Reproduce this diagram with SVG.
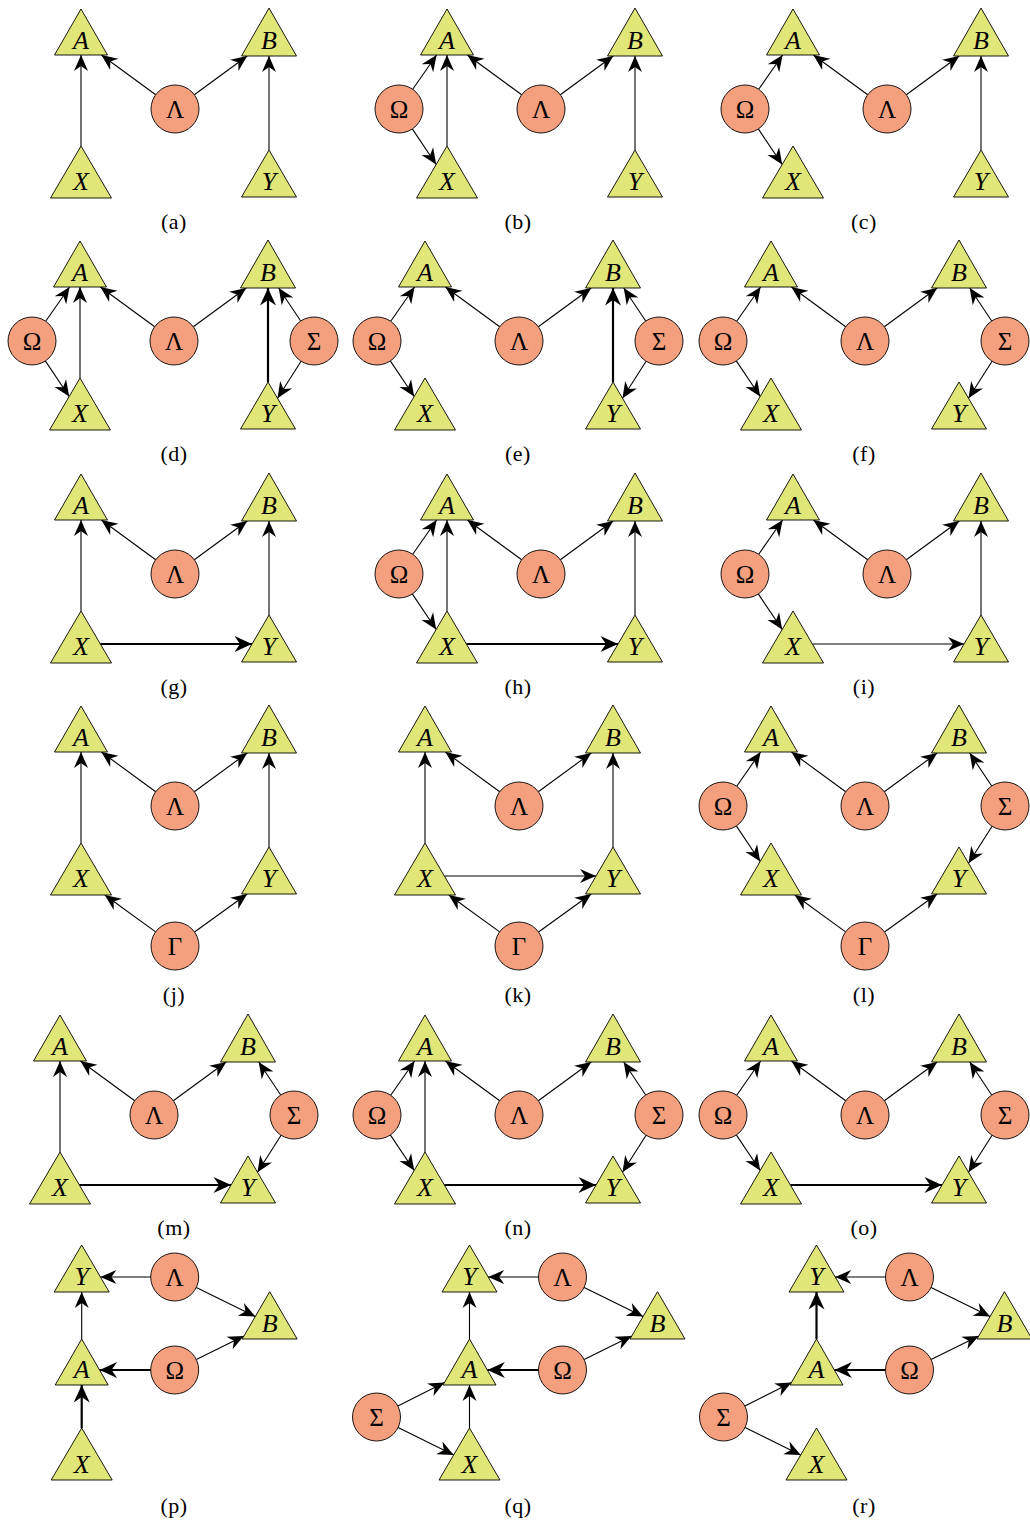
<svg xmlns="http://www.w3.org/2000/svg" width="1030" height="1524" viewBox="0 0 1030 1524">
<style>
.tri{fill:#E1E678;stroke:#000;stroke-width:0.9}
.c{fill:#F4A07F;stroke:#000;stroke-width:0.9}
text{font-family:'Liberation Serif','Times New Roman','DejaVu Serif',serif;text-anchor:middle;fill:#000}
.v{font-style:italic;font-size:26px}
.g{font-size:25px}
.lbl{font-size:22px;letter-spacing:0.5px}
.e{fill:none;stroke:#000;stroke-width:1.1;marker-end:url(#ah)}
.t{fill:none;stroke:#000;stroke-width:2.2;marker-end:url(#ahT)}
</style>
<defs>
<marker id="ah" markerUnits="userSpaceOnUse" markerWidth="20" markerHeight="18" viewBox="-18 -9 20 18" refX="0" refY="0" orient="auto"><path d="M0,0 L-16,-7 L-11,0 L-16,7 z" fill="#000"/></marker>
<marker id="ahT" markerUnits="userSpaceOnUse" markerWidth="22" markerHeight="20" viewBox="-20 -10 22 20" refX="0" refY="0" orient="auto"><path d="M0,0 L-17.5,-8 L-12,0 L-17.5,8 z" fill="#000"/></marker>
</defs>
<rect width="1030" height="1524" fill="#fff"/>

<!-- (a) -->
<g id="panel-a" transform="translate(81,109)">
<g id="a-edges"><path class="e" d="M0,37 L0,-54"/><path class="e" d="M74.7,-14.2 L20.4,-54"/><path class="e" d="M113.3,-14.2 L166.2,-53"/><path class="e" d="M188,41 L188,-53"/></g>
<g id="a-A"><polygon class="tri" points="0,-100 26.5,-54 -26.5,-54"/><text class="v" x="0" y="-60">A</text></g>
<g id="a-B"><polygon class="tri" points="188,-101 215.5,-53 160.5,-53"/><text class="v" x="188" y="-60">B</text></g>
<g id="a-X"><polygon class="tri" points="0,37 30.5,89 -30.5,89"/><text class="v" x="0" y="81">X</text></g>
<g id="a-Y"><polygon class="tri" points="188,41 215.5,88 160.5,88"/><text class="v" x="188" y="80.5">Y</text></g>
<g id="a-L"><circle class="c" cx="94" cy="0" r="24"/><text class="g" x="94" y="9">Λ</text></g>
</g>
<text class="lbl" x="174" y="229">(a)</text>

<!-- (b) -->
<g id="panel-b" transform="translate(447,109)">
<g id="b-edges"><path class="e" d="M-34.3,-19.7 L-10.4,-54"/><path class="e" d="M-34.7,19.9 L-10.8,55.5"/><path class="e" d="M0,37 L0,-54"/><path class="e" d="M74.7,-14.2 L20.4,-54"/><path class="e" d="M113.3,-14.2 L166.2,-53"/><path class="e" d="M188,41 L188,-53"/></g>
<g id="b-A"><polygon class="tri" points="0,-100 26.5,-54 -26.5,-54"/><text class="v" x="0" y="-60">A</text></g>
<g id="b-B"><polygon class="tri" points="188,-101 215.5,-53 160.5,-53"/><text class="v" x="188" y="-60">B</text></g>
<g id="b-X"><polygon class="tri" points="0,37 30.5,89 -30.5,89"/><text class="v" x="0" y="81">X</text></g>
<g id="b-Y"><polygon class="tri" points="188,41 215.5,88 160.5,88"/><text class="v" x="188" y="80.5">Y</text></g>
<g id="b-L"><circle class="c" cx="94" cy="0" r="24"/><text class="g" x="94" y="9">Λ</text></g>
<g id="b-O"><circle class="c" cx="-48" cy="0" r="24"/><text class="g" x="-48" y="9">Ω</text></g>
</g>
<text class="lbl" x="518" y="229">(b)</text>

<!-- (c) -->
<g id="panel-c" transform="translate(793,109)">
<g id="c-edges"><path class="e" d="M-34.3,-19.7 L-10.4,-54"/><path class="e" d="M-34.7,19.9 L-10.8,55.5"/><path class="e" d="M74.7,-14.2 L20.4,-54"/><path class="e" d="M113.3,-14.2 L166.2,-53"/><path class="e" d="M188,41 L188,-53"/></g>
<g id="c-A"><polygon class="tri" points="0,-100 26.5,-54 -26.5,-54"/><text class="v" x="0" y="-60">A</text></g>
<g id="c-B"><polygon class="tri" points="188,-101 215.5,-53 160.5,-53"/><text class="v" x="188" y="-60">B</text></g>
<g id="c-X"><polygon class="tri" points="0,37 30.5,89 -30.5,89"/><text class="v" x="0" y="81">X</text></g>
<g id="c-Y"><polygon class="tri" points="188,41 215.5,88 160.5,88"/><text class="v" x="188" y="80.5">Y</text></g>
<g id="c-L"><circle class="c" cx="94" cy="0" r="24"/><text class="g" x="94" y="9">Λ</text></g>
<g id="c-O"><circle class="c" cx="-48" cy="0" r="24"/><text class="g" x="-48" y="9">Ω</text></g>
</g>
<text class="lbl" x="864" y="229">(c)</text>

<!-- (d) -->
<g id="panel-d" transform="translate(80,341)">
<g id="d-edges"><path class="e" d="M-34.3,-19.7 L-10.4,-54"/><path class="e" d="M-34.7,19.9 L-10.8,55.5"/><path class="e" d="M0,37 L0,-54"/><path class="e" d="M74.7,-14.2 L20.4,-54"/><path class="e" d="M113.3,-14.2 L166.2,-53"/><path class="t" d="M188,41 L188,-53"/><path class="e" d="M220.7,-20 L198.7,-53"/><path class="e" d="M221.1,20.2 L197.5,57.3"/></g>
<g id="d-A"><polygon class="tri" points="0,-100 26.5,-54 -26.5,-54"/><text class="v" x="0" y="-60">A</text></g>
<g id="d-B"><polygon class="tri" points="188,-101 215.5,-53 160.5,-53"/><text class="v" x="188" y="-60">B</text></g>
<g id="d-X"><polygon class="tri" points="0,37 30.5,89 -30.5,89"/><text class="v" x="0" y="81">X</text></g>
<g id="d-Y"><polygon class="tri" points="188,41 215.5,88 160.5,88"/><text class="v" x="188" y="80.5">Y</text></g>
<g id="d-L"><circle class="c" cx="94" cy="0" r="24"/><text class="g" x="94" y="9">Λ</text></g>
<g id="d-O"><circle class="c" cx="-48" cy="0" r="24"/><text class="g" x="-48" y="9">Ω</text></g>
<g id="d-S"><circle class="c" cx="234" cy="0" r="24"/><text class="g" x="234" y="9">Σ</text></g>
</g>
<text class="lbl" x="174" y="461">(d)</text>

<!-- (e) -->
<g id="panel-e" transform="translate(425,341)">
<g id="e-edges"><path class="e" d="M-34.3,-19.7 L-10.4,-54"/><path class="e" d="M-34.7,19.9 L-10.8,55.5"/><path class="e" d="M74.7,-14.2 L20.4,-54"/><path class="e" d="M113.3,-14.2 L166.2,-53"/><path class="t" d="M188,41 L188,-53"/><path class="e" d="M220.7,-20 L198.7,-53"/><path class="e" d="M221.1,20.2 L197.5,57.3"/></g>
<g id="e-A"><polygon class="tri" points="0,-100 26.5,-54 -26.5,-54"/><text class="v" x="0" y="-60">A</text></g>
<g id="e-B"><polygon class="tri" points="188,-101 215.5,-53 160.5,-53"/><text class="v" x="188" y="-60">B</text></g>
<g id="e-X"><polygon class="tri" points="0,37 30.5,89 -30.5,89"/><text class="v" x="0" y="81">X</text></g>
<g id="e-Y"><polygon class="tri" points="188,41 215.5,88 160.5,88"/><text class="v" x="188" y="80.5">Y</text></g>
<g id="e-L"><circle class="c" cx="94" cy="0" r="24"/><text class="g" x="94" y="9">Λ</text></g>
<g id="e-O"><circle class="c" cx="-48" cy="0" r="24"/><text class="g" x="-48" y="9">Ω</text></g>
<g id="e-S"><circle class="c" cx="234" cy="0" r="24"/><text class="g" x="234" y="9">Σ</text></g>
</g>
<text class="lbl" x="518" y="461">(e)</text>

<!-- (f) -->
<g id="panel-f" transform="translate(771,341)">
<g id="f-edges"><path class="e" d="M-34.3,-19.7 L-10.4,-54"/><path class="e" d="M-34.7,19.9 L-10.8,55.5"/><path class="e" d="M74.7,-14.2 L20.4,-54"/><path class="e" d="M113.3,-14.2 L166.2,-53"/><path class="e" d="M220.7,-20 L198.7,-53"/><path class="e" d="M221.1,20.2 L197.5,57.3"/></g>
<g id="f-A"><polygon class="tri" points="0,-100 26.5,-54 -26.5,-54"/><text class="v" x="0" y="-60">A</text></g>
<g id="f-B"><polygon class="tri" points="188,-101 215.5,-53 160.5,-53"/><text class="v" x="188" y="-60">B</text></g>
<g id="f-X"><polygon class="tri" points="0,37 30.5,89 -30.5,89"/><text class="v" x="0" y="81">X</text></g>
<g id="f-Y"><polygon class="tri" points="188,41 215.5,88 160.5,88"/><text class="v" x="188" y="80.5">Y</text></g>
<g id="f-L"><circle class="c" cx="94" cy="0" r="24"/><text class="g" x="94" y="9">Λ</text></g>
<g id="f-O"><circle class="c" cx="-48" cy="0" r="24"/><text class="g" x="-48" y="9">Ω</text></g>
<g id="f-S"><circle class="c" cx="234" cy="0" r="24"/><text class="g" x="234" y="9">Σ</text></g>
</g>
<text class="lbl" x="864" y="461">(f)</text>

<!-- (g) -->
<g id="panel-g" transform="translate(81,574)">
<g id="g-edges"><path class="e" d="M0,37 L0,-54"/><path class="e" d="M74.7,-14.2 L20.4,-54"/><path class="e" d="M113.3,-14.2 L166.2,-53"/><path class="e" d="M188,41 L188,-53"/><path class="t" d="M19.4,70 L171,70"/></g>
<g id="g-A"><polygon class="tri" points="0,-100 26.5,-54 -26.5,-54"/><text class="v" x="0" y="-60">A</text></g>
<g id="g-B"><polygon class="tri" points="188,-101 215.5,-53 160.5,-53"/><text class="v" x="188" y="-60">B</text></g>
<g id="g-X"><polygon class="tri" points="0,37 30.5,89 -30.5,89"/><text class="v" x="0" y="81">X</text></g>
<g id="g-Y"><polygon class="tri" points="188,41 215.5,88 160.5,88"/><text class="v" x="188" y="80.5">Y</text></g>
<g id="g-L"><circle class="c" cx="94" cy="0" r="24"/><text class="g" x="94" y="9">Λ</text></g>
</g>
<text class="lbl" x="174" y="694">(g)</text>

<!-- (h) -->
<g id="panel-h" transform="translate(447,574)">
<g id="h-edges"><path class="e" d="M-34.3,-19.7 L-10.4,-54"/><path class="e" d="M-34.7,19.9 L-10.8,55.5"/><path class="e" d="M0,37 L0,-54"/><path class="e" d="M74.7,-14.2 L20.4,-54"/><path class="e" d="M113.3,-14.2 L166.2,-53"/><path class="e" d="M188,41 L188,-53"/><path class="t" d="M19.4,70 L171,70"/></g>
<g id="h-A"><polygon class="tri" points="0,-100 26.5,-54 -26.5,-54"/><text class="v" x="0" y="-60">A</text></g>
<g id="h-B"><polygon class="tri" points="188,-101 215.5,-53 160.5,-53"/><text class="v" x="188" y="-60">B</text></g>
<g id="h-X"><polygon class="tri" points="0,37 30.5,89 -30.5,89"/><text class="v" x="0" y="81">X</text></g>
<g id="h-Y"><polygon class="tri" points="188,41 215.5,88 160.5,88"/><text class="v" x="188" y="80.5">Y</text></g>
<g id="h-L"><circle class="c" cx="94" cy="0" r="24"/><text class="g" x="94" y="9">Λ</text></g>
<g id="h-O"><circle class="c" cx="-48" cy="0" r="24"/><text class="g" x="-48" y="9">Ω</text></g>
</g>
<text class="lbl" x="518" y="694">(h)</text>

<!-- (i) -->
<g id="panel-i" transform="translate(793,574)">
<g id="i-edges"><path class="e" d="M-34.3,-19.7 L-10.4,-54"/><path class="e" d="M-34.7,19.9 L-10.8,55.5"/><path class="e" d="M74.7,-14.2 L20.4,-54"/><path class="e" d="M113.3,-14.2 L166.2,-53"/><path class="e" d="M188,41 L188,-53"/><path class="e" d="M19.4,70 L171,70"/></g>
<g id="i-A"><polygon class="tri" points="0,-100 26.5,-54 -26.5,-54"/><text class="v" x="0" y="-60">A</text></g>
<g id="i-B"><polygon class="tri" points="188,-101 215.5,-53 160.5,-53"/><text class="v" x="188" y="-60">B</text></g>
<g id="i-X"><polygon class="tri" points="0,37 30.5,89 -30.5,89"/><text class="v" x="0" y="81">X</text></g>
<g id="i-Y"><polygon class="tri" points="188,41 215.5,88 160.5,88"/><text class="v" x="188" y="80.5">Y</text></g>
<g id="i-L"><circle class="c" cx="94" cy="0" r="24"/><text class="g" x="94" y="9">Λ</text></g>
<g id="i-O"><circle class="c" cx="-48" cy="0" r="24"/><text class="g" x="-48" y="9">Ω</text></g>
</g>
<text class="lbl" x="864" y="694">(i)</text>

<!-- (j) -->
<g id="panel-j" transform="translate(81,806)">
<g id="j-edges"><path class="e" d="M0,37 L0,-54"/><path class="e" d="M74.7,-14.2 L20.4,-54"/><path class="e" d="M113.3,-14.2 L166.2,-53"/><path class="e" d="M188,41 L188,-53"/><path class="e" d="M74.6,125.9 L23.8,89"/><path class="e" d="M113.5,126 L166.2,88"/></g>
<g id="j-A"><polygon class="tri" points="0,-100 26.5,-54 -26.5,-54"/><text class="v" x="0" y="-60">A</text></g>
<g id="j-B"><polygon class="tri" points="188,-101 215.5,-53 160.5,-53"/><text class="v" x="188" y="-60">B</text></g>
<g id="j-X"><polygon class="tri" points="0,37 30.5,89 -30.5,89"/><text class="v" x="0" y="81">X</text></g>
<g id="j-Y"><polygon class="tri" points="188,41 215.5,88 160.5,88"/><text class="v" x="188" y="80.5">Y</text></g>
<g id="j-L"><circle class="c" cx="94" cy="0" r="24"/><text class="g" x="94" y="9">Λ</text></g>
<g id="j-G"><circle class="c" cx="94" cy="140" r="24"/><text class="g" x="94" y="149">Γ</text></g>
</g>
<text class="lbl" x="174" y="1002">(j)</text>

<!-- (k) -->
<g id="panel-k" transform="translate(425,806)">
<g id="k-edges"><path class="e" d="M0,37 L0,-54"/><path class="e" d="M74.7,-14.2 L20.4,-54"/><path class="e" d="M113.3,-14.2 L166.2,-53"/><path class="e" d="M188,41 L188,-53"/><path class="e" d="M19.4,70 L171,70"/><path class="e" d="M74.6,125.9 L23.8,89"/><path class="e" d="M113.5,126 L166.2,88"/></g>
<g id="k-A"><polygon class="tri" points="0,-100 26.5,-54 -26.5,-54"/><text class="v" x="0" y="-60">A</text></g>
<g id="k-B"><polygon class="tri" points="188,-101 215.5,-53 160.5,-53"/><text class="v" x="188" y="-60">B</text></g>
<g id="k-X"><polygon class="tri" points="0,37 30.5,89 -30.5,89"/><text class="v" x="0" y="81">X</text></g>
<g id="k-Y"><polygon class="tri" points="188,41 215.5,88 160.5,88"/><text class="v" x="188" y="80.5">Y</text></g>
<g id="k-L"><circle class="c" cx="94" cy="0" r="24"/><text class="g" x="94" y="9">Λ</text></g>
<g id="k-G"><circle class="c" cx="94" cy="140" r="24"/><text class="g" x="94" y="149">Γ</text></g>
</g>
<text class="lbl" x="518" y="1002">(k)</text>

<!-- (l) -->
<g id="panel-l" transform="translate(771,806)">
<g id="l-edges"><path class="e" d="M-34.3,-19.7 L-10.4,-54"/><path class="e" d="M-34.7,19.9 L-10.8,55.5"/><path class="e" d="M74.7,-14.2 L20.4,-54"/><path class="e" d="M113.3,-14.2 L166.2,-53"/><path class="e" d="M220.7,-20 L198.7,-53"/><path class="e" d="M221.1,20.2 L197.5,57.3"/><path class="e" d="M74.6,125.9 L23.8,89"/><path class="e" d="M113.5,126 L166.2,88"/></g>
<g id="l-A"><polygon class="tri" points="0,-100 26.5,-54 -26.5,-54"/><text class="v" x="0" y="-60">A</text></g>
<g id="l-B"><polygon class="tri" points="188,-101 215.5,-53 160.5,-53"/><text class="v" x="188" y="-60">B</text></g>
<g id="l-X"><polygon class="tri" points="0,37 30.5,89 -30.5,89"/><text class="v" x="0" y="81">X</text></g>
<g id="l-Y"><polygon class="tri" points="188,41 215.5,88 160.5,88"/><text class="v" x="188" y="80.5">Y</text></g>
<g id="l-L"><circle class="c" cx="94" cy="0" r="24"/><text class="g" x="94" y="9">Λ</text></g>
<g id="l-O"><circle class="c" cx="-48" cy="0" r="24"/><text class="g" x="-48" y="9">Ω</text></g>
<g id="l-S"><circle class="c" cx="234" cy="0" r="24"/><text class="g" x="234" y="9">Σ</text></g>
<g id="l-G"><circle class="c" cx="94" cy="140" r="24"/><text class="g" x="94" y="149">Γ</text></g>
</g>
<text class="lbl" x="864" y="1002">(l)</text>

<!-- (m) -->
<g id="panel-m" transform="translate(60,1115)">
<g id="m-edges"><path class="e" d="M0,37 L0,-54"/><path class="e" d="M74.7,-14.2 L20.4,-54"/><path class="e" d="M113.3,-14.2 L166.2,-53"/><path class="e" d="M220.7,-20 L198.7,-53"/><path class="e" d="M221.1,20.2 L197.5,57.3"/><path class="t" d="M19.4,70 L171,70"/></g>
<g id="m-A"><polygon class="tri" points="0,-100 26.5,-54 -26.5,-54"/><text class="v" x="0" y="-60">A</text></g>
<g id="m-B"><polygon class="tri" points="188,-101 215.5,-53 160.5,-53"/><text class="v" x="188" y="-60">B</text></g>
<g id="m-X"><polygon class="tri" points="0,37 30.5,89 -30.5,89"/><text class="v" x="0" y="81">X</text></g>
<g id="m-Y"><polygon class="tri" points="188,41 215.5,88 160.5,88"/><text class="v" x="188" y="80.5">Y</text></g>
<g id="m-L"><circle class="c" cx="94" cy="0" r="24"/><text class="g" x="94" y="9">Λ</text></g>
<g id="m-S"><circle class="c" cx="234" cy="0" r="24"/><text class="g" x="234" y="9">Σ</text></g>
</g>
<text class="lbl" x="174" y="1235">(m)</text>

<!-- (n) -->
<g id="panel-n" transform="translate(425,1115)">
<g id="n-edges"><path class="e" d="M-34.3,-19.7 L-10.4,-54"/><path class="e" d="M-34.7,19.9 L-10.8,55.5"/><path class="e" d="M0,37 L0,-54"/><path class="e" d="M74.7,-14.2 L20.4,-54"/><path class="e" d="M113.3,-14.2 L166.2,-53"/><path class="e" d="M220.7,-20 L198.7,-53"/><path class="e" d="M221.1,20.2 L197.5,57.3"/><path class="t" d="M19.4,70 L171,70"/></g>
<g id="n-A"><polygon class="tri" points="0,-100 26.5,-54 -26.5,-54"/><text class="v" x="0" y="-60">A</text></g>
<g id="n-B"><polygon class="tri" points="188,-101 215.5,-53 160.5,-53"/><text class="v" x="188" y="-60">B</text></g>
<g id="n-X"><polygon class="tri" points="0,37 30.5,89 -30.5,89"/><text class="v" x="0" y="81">X</text></g>
<g id="n-Y"><polygon class="tri" points="188,41 215.5,88 160.5,88"/><text class="v" x="188" y="80.5">Y</text></g>
<g id="n-L"><circle class="c" cx="94" cy="0" r="24"/><text class="g" x="94" y="9">Λ</text></g>
<g id="n-O"><circle class="c" cx="-48" cy="0" r="24"/><text class="g" x="-48" y="9">Ω</text></g>
<g id="n-S"><circle class="c" cx="234" cy="0" r="24"/><text class="g" x="234" y="9">Σ</text></g>
</g>
<text class="lbl" x="518" y="1235">(n)</text>

<!-- (o) -->
<g id="panel-o" transform="translate(771,1115)">
<g id="o-edges"><path class="e" d="M-34.3,-19.7 L-10.4,-54"/><path class="e" d="M-34.7,19.9 L-10.8,55.5"/><path class="e" d="M74.7,-14.2 L20.4,-54"/><path class="e" d="M113.3,-14.2 L166.2,-53"/><path class="e" d="M220.7,-20 L198.7,-53"/><path class="e" d="M221.1,20.2 L197.5,57.3"/><path class="t" d="M19.4,70 L171,70"/></g>
<g id="o-A"><polygon class="tri" points="0,-100 26.5,-54 -26.5,-54"/><text class="v" x="0" y="-60">A</text></g>
<g id="o-B"><polygon class="tri" points="188,-101 215.5,-53 160.5,-53"/><text class="v" x="188" y="-60">B</text></g>
<g id="o-X"><polygon class="tri" points="0,37 30.5,89 -30.5,89"/><text class="v" x="0" y="81">X</text></g>
<g id="o-Y"><polygon class="tri" points="188,41 215.5,88 160.5,88"/><text class="v" x="188" y="80.5">Y</text></g>
<g id="o-L"><circle class="c" cx="94" cy="0" r="24"/><text class="g" x="94" y="9">Λ</text></g>
<g id="o-O"><circle class="c" cx="-48" cy="0" r="24"/><text class="g" x="-48" y="9">Ω</text></g>
<g id="o-S"><circle class="c" cx="234" cy="0" r="24"/><text class="g" x="234" y="9">Σ</text></g>
</g>
<text class="lbl" x="864" y="1235">(o)</text>

<!-- (p) -->
<g id="panel-p" transform="translate(81.7,1277)">
<g id="p-edges"><path class="e" d="M69,0 L18.7,0"/><path class="e" d="M114.6,10.5 L173.6,39.4"/><path class="e" d="M114.6,82.4 L162.2,59"/><path class="t" d="M69,93 L17.9,93"/><path class="e" d="M0,62 L0,15"/><path class="t" d="M0,151 L0,108"/></g>
<g id="p-Y"><polygon class="tri" points="0,-32 27.5,15 -27.5,15"/><text class="v" x="0" y="8">Y</text></g>
<g id="p-L"><circle class="c" cx="93" cy="0" r="24"/><text class="g" x="93" y="9">Λ</text></g>
<g id="p-B"><polygon class="tri" points="188,14.7 215.5,62 160.5,62"/><text class="v" x="188" y="55">B</text></g>
<g id="p-O"><circle class="c" cx="93" cy="93" r="24"/><text class="g" x="93" y="102">Ω</text></g>
<g id="p-A"><polygon class="tri" points="0,62 26.5,108 -26.5,108"/><text class="v" x="0" y="101">A</text></g>
<g id="p-X"><polygon class="tri" points="0,151 30.5,203 -30.5,203"/><text class="v" x="0" y="196">X</text></g>
</g>
<text class="lbl" x="174" y="1512.5">(p)</text>

<!-- (q) -->
<g id="panel-q" transform="translate(469.5,1277)">
<g id="q-edges"><path class="e" d="M69,0 L18.7,0"/><path class="e" d="M114.6,10.5 L173.6,39.4"/><path class="e" d="M114.6,82.4 L162.2,59"/><path class="t" d="M69,93 L17.9,93"/><path class="e" d="M0,62 L0,15"/><path class="e" d="M0,151 L0,108"/><path class="e" d="M-71.6,129.1 L-25,105.4"/><path class="e" d="M-71.4,150.6 L-15.8,177.9"/></g>
<g id="q-Y"><polygon class="tri" points="0,-32 27.5,15 -27.5,15"/><text class="v" x="0" y="8">Y</text></g>
<g id="q-L"><circle class="c" cx="93" cy="0" r="24"/><text class="g" x="93" y="9">Λ</text></g>
<g id="q-B"><polygon class="tri" points="188,14.7 215.5,62 160.5,62"/><text class="v" x="188" y="55">B</text></g>
<g id="q-O"><circle class="c" cx="93" cy="93" r="24"/><text class="g" x="93" y="102">Ω</text></g>
<g id="q-A"><polygon class="tri" points="0,62 26.5,108 -26.5,108"/><text class="v" x="0" y="101">A</text></g>
<g id="q-X"><polygon class="tri" points="0,151 30.5,203 -30.5,203"/><text class="v" x="0" y="196">X</text></g>
<g id="q-S"><circle class="c" cx="-93" cy="140" r="24"/><text class="g" x="-93" y="149">Σ</text></g>
</g>
<text class="lbl" x="518" y="1512.5">(q)</text>

<!-- (r) -->
<g id="panel-r" transform="translate(816.5,1277)">
<g id="r-edges"><path class="e" d="M69,0 L18.7,0"/><path class="e" d="M114.6,10.5 L173.6,39.4"/><path class="e" d="M114.6,82.4 L162.2,59"/><path class="t" d="M69,93 L17.9,93"/><path class="t" d="M0,62 L0,15"/><path class="e" d="M-71.6,129.1 L-25,105.4"/><path class="e" d="M-71.4,150.6 L-15.8,177.9"/></g>
<g id="r-Y"><polygon class="tri" points="0,-32 27.5,15 -27.5,15"/><text class="v" x="0" y="8">Y</text></g>
<g id="r-L"><circle class="c" cx="93" cy="0" r="24"/><text class="g" x="93" y="9">Λ</text></g>
<g id="r-B"><polygon class="tri" points="188,14.7 215.5,62 160.5,62"/><text class="v" x="188" y="55">B</text></g>
<g id="r-O"><circle class="c" cx="93" cy="93" r="24"/><text class="g" x="93" y="102">Ω</text></g>
<g id="r-A"><polygon class="tri" points="0,62 26.5,108 -26.5,108"/><text class="v" x="0" y="101">A</text></g>
<g id="r-X"><polygon class="tri" points="0,151 30.5,203 -30.5,203"/><text class="v" x="0" y="196">X</text></g>
<g id="r-S"><circle class="c" cx="-93" cy="140" r="24"/><text class="g" x="-93" y="149">Σ</text></g>
</g>
<text class="lbl" x="864" y="1512.5">(r)</text>
</svg>
